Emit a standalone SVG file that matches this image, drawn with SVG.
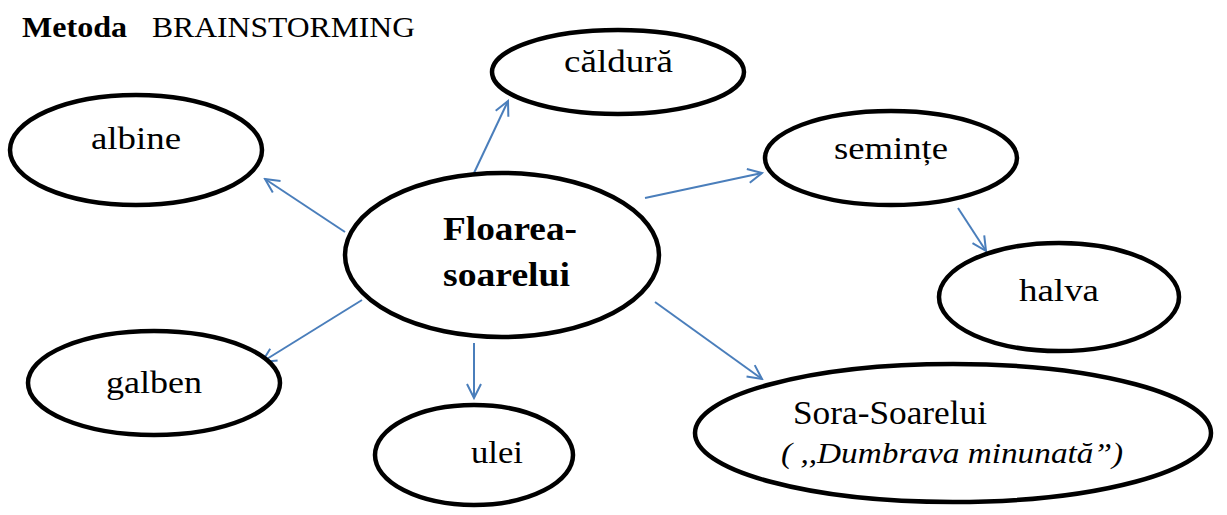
<svg xmlns="http://www.w3.org/2000/svg" width="1227" height="515" viewBox="0 0 1227 515">
<style>
.n{fill:#fff;stroke:#000;stroke-width:4.5}
.c{stroke:#4a7ebb;stroke-width:2;fill:none;marker-end:url(#a)}
</style>
<defs>
<marker id="a" viewBox="0 0 20 20" refX="18" refY="10" markerWidth="20" markerHeight="20" markerUnits="userSpaceOnUse" orient="auto">
<path d="M4,3 L18,10 L4,17" fill="none" stroke="#4a7ebb" stroke-width="2"/>
</marker>
</defs>
<rect width="1227" height="515" fill="#fff"/>
<g id="title">
<text x="22" y="37" font-family="Liberation Serif" font-size="30" font-weight="bold" textLength="105" lengthAdjust="spacingAndGlyphs">Metoda</text>
<text x="152" y="37" font-family="Liberation Serif" font-size="30" textLength="263" lengthAdjust="spacingAndGlyphs">BRAINSTORMING</text>
</g>
<g id="connectors">
<line class="c" x1="474" y1="173" x2="508" y2="101"/>
<line class="c" x1="345" y1="232" x2="265" y2="179"/>
<line class="c" x1="645" y1="198" x2="762" y2="173"/>
<line class="c" x1="958" y1="208" x2="986" y2="251"/>
<line class="c" x1="362" y1="300" x2="262" y2="362"/>
<line class="c" x1="474" y1="343" x2="474" y2="398"/>
<line class="c" x1="655" y1="302" x2="762" y2="379"/>
</g>
<g id="center"><ellipse class="n" cx="502" cy="255" rx="157" ry="82"/>
<text x="443" y="240" font-family="Liberation Serif" font-size="33" font-weight="bold" textLength="134" lengthAdjust="spacingAndGlyphs">Floarea-</text>
<text x="443" y="286" font-family="Liberation Serif" font-size="33" font-weight="bold" textLength="127" lengthAdjust="spacingAndGlyphs">soarelui</text></g>
<g id="caldura"><ellipse class="n" cx="618" cy="72" rx="126" ry="42"/><text x="564" y="72" font-family="Liberation Serif" font-size="31" textLength="109" lengthAdjust="spacingAndGlyphs">căldură</text></g>
<g id="albine"><ellipse class="n" cx="136" cy="150" rx="126" ry="55"/><text x="91" y="149" font-family="Liberation Serif" font-size="31" textLength="90" lengthAdjust="spacingAndGlyphs">albine</text></g>
<g id="seminte"><ellipse class="n" cx="891" cy="158" rx="126" ry="47"/><text x="834" y="159" font-family="Liberation Serif" font-size="31" textLength="114" lengthAdjust="spacingAndGlyphs">semințe</text></g>
<g id="halva"><ellipse class="n" cx="1059" cy="297" rx="120" ry="54"/><text x="1019" y="301" font-family="Liberation Serif" font-size="31" textLength="80" lengthAdjust="spacingAndGlyphs">halva</text></g>
<g id="galben"><ellipse class="n" cx="154" cy="383" rx="126" ry="52"/><text x="106" y="393" font-family="Liberation Serif" font-size="31" textLength="96" lengthAdjust="spacingAndGlyphs">galben</text></g>
<g id="ulei"><ellipse class="n" cx="474" cy="455" rx="99" ry="50"/><text x="471" y="463" font-family="Liberation Serif" font-size="31" textLength="52" lengthAdjust="spacingAndGlyphs">ulei</text></g>
<g id="sora"><ellipse class="n" cx="953" cy="433" rx="258" ry="69"/>
<text x="793" y="424" font-family="Liberation Serif" font-size="33" textLength="194" lengthAdjust="spacingAndGlyphs">Sora-Soarelui</text>
<text x="781" y="463" font-family="Liberation Serif" font-size="30" font-style="italic" textLength="342" lengthAdjust="spacingAndGlyphs">( ,,Dumbrava minunată”)</text></g>
</svg>
